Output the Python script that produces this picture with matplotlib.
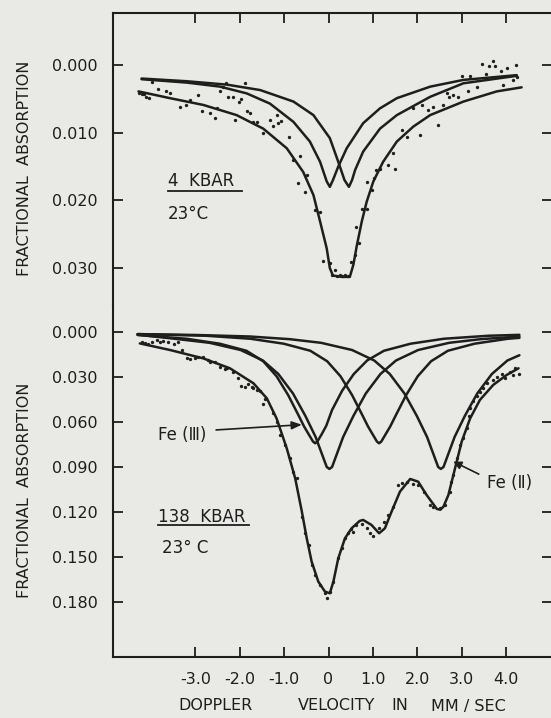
import matplotlib
matplotlib.use("Agg")
import matplotlib.pyplot as plt

W, H = 551, 718
INK = "#1e1e1e"
PAPER = "#e9e9e6"

# ---- 4 kbar panel ----
top_fit_x = [-4.28, -3.57, -2.82, -2.07, -1.47, -0.94, -0.57, -0.34, -0.19, -0.04, 0.03, 0.10,
             0.30, 0.48, 0.56, 0.64, 0.75, 0.86, 1.01, 1.23, 1.54, 1.91, 2.29, 3.04, 3.79, 4.35]
top_fit_y = [0.0039, 0.0049, 0.0059, 0.0074, 0.0094, 0.0123, 0.0158, 0.0192, 0.0231, 0.0271, 0.0300, 0.0311,
             0.0313, 0.0313, 0.0295, 0.0266, 0.0231, 0.0202, 0.0172, 0.0143, 0.0113, 0.0091, 0.0074, 0.0054, 0.0039, 0.0033]

top_a_x = [-4.21, -3.19, -2.44, -1.84, -1.32, -0.79, -0.42, -0.19, -0.04, 0.03, 0.10, 0.22, 0.41,
           0.78, 1.16, 1.54, 2.29, 3.04, 4.24]
top_a_y = [0.0021, 0.0026, 0.0032, 0.0042, 0.0057, 0.0084, 0.0113, 0.0143, 0.0172, 0.0180, 0.0170, 0.0150, 0.0123,
           0.0086, 0.0064, 0.0049, 0.0032, 0.0022, 0.0015]

top_b_x = [-4.21, -3.19, -2.29, -1.54, -0.79, -0.34, 0.03, 0.22, 0.36, 0.46, 0.53, 0.60, 0.78,
           1.16, 1.54, 2.29, 3.04, 4.24]
top_b_y = [0.0020, 0.0024, 0.0029, 0.0037, 0.0054, 0.0074, 0.0108, 0.0143, 0.0170, 0.0180, 0.0170, 0.0155, 0.0128,
           0.0094, 0.0074, 0.0047, 0.0027, 0.0016]

top_pts_x = [-4.26, -4.21, -4.16, -4.10, -4.04, -3.98, -3.83, -3.65, -3.57, -3.35, -3.20, -3.12, -2.93, -2.86,
             -2.67, -2.56, -2.52, -2.44, -2.37, -2.31, -2.26, -2.16, -2.11, -2.01, -1.96, -1.88, -1.84, -1.77,
             -1.69, -1.62, -1.47, -1.32, -1.24, -1.17, -1.13, -1.06, -0.90, -0.79, -0.64, -0.68, -0.49, -0.53,
             -0.30, -0.19, -0.12, 0.03, 0.08, 0.15, 0.20, 0.26, 0.31, 0.37, 0.43, 0.50, 0.60, 0.62, 0.69, 0.75,
             0.86, 0.87, 0.97, 1.03, 1.08, 1.16, 1.35, 1.46, 1.50, 1.65, 1.76, 1.90, 2.05, 2.10, 2.25, 2.36,
             2.47, 2.59, 2.66, 2.72, 2.81, 2.92, 3.00, 3.15, 3.19, 3.34, 3.45, 3.55, 3.62, 3.70, 3.75, 3.89,
             3.94, 4.03, 4.16, 4.22, 4.24]
top_pts_y = [0.0042, 0.0043, 0.0043, 0.0047, 0.0049, 0.0025, 0.0035, 0.0039, 0.0042, 0.0062, 0.0059, 0.0052,
             0.0044, 0.0068, 0.0071, 0.0079, 0.0064, 0.0039, 0.0032, 0.0026, 0.0048, 0.0048, 0.0081, 0.0054,
             0.0050, 0.0026, 0.0068, 0.0071, 0.0084, 0.0084, 0.0101, 0.0081, 0.0090, 0.0074, 0.0086, 0.0083,
             0.0106, 0.0140, 0.0134, 0.0175, 0.0162, 0.0187, 0.0214, 0.0217, 0.0290, 0.0293, 0.0310, 0.0303,
             0.0312, 0.0310, 0.0312, 0.0310, 0.0311, 0.0291, 0.0281, 0.0240, 0.0263, 0.0212, 0.0212, 0.0173,
             0.0185, 0.0167, 0.0155, 0.0153, 0.0148, 0.0130, 0.0153, 0.0096, 0.0106, 0.0063, 0.0103, 0.0059,
             0.0066, 0.0062, 0.0089, 0.0059, 0.0042, 0.0047, 0.0044, 0.0048, 0.0016, 0.0039, 0.0016, 0.0032,
             -0.0002, 0.0014, 0.0002, -0.0006, 0.0002, 0.0009, 0.0030, 0.0004, 0.0022, 0.0000, 0.0017]

# ---- 138 kbar panel ----
fe3a_x = [-4.3, -3.2, -2.45, -1.85, -1.47, -1.17, -0.91, -0.68, -0.55, -0.45, -0.35, -0.30, -0.25, -0.15,
          -0.05, 0.08, 0.31, 0.57, 0.87, 1.25, 1.85, 2.6, 3.6, 4.3]
fe3a_y = [0.0020, 0.0045, 0.0078, 0.0125, 0.0195, 0.0295, 0.0420, 0.0553, 0.0630, 0.0680, 0.0730, 0.0742,
          0.0730, 0.0680, 0.0625, 0.0520, 0.0390, 0.0280, 0.0190, 0.0125, 0.0078, 0.0045, 0.0025, 0.0019]

fe3b_x = [-4.3, -2.76, -1.76, -1.01, -0.41, -0.03, 0.27, 0.53, 0.76, 0.89, 0.99, 1.09, 1.14, 1.19, 1.29,
          1.39, 1.52, 1.75, 2.01, 2.31, 2.69, 3.29, 4.04, 4.3]
fe3b_y = [0.0014, 0.0025, 0.0045, 0.0078, 0.0125, 0.0195, 0.0295, 0.0420, 0.0553, 0.0630, 0.0680, 0.0730,
          0.0742, 0.0730, 0.0680, 0.0630, 0.0553, 0.0420, 0.0295, 0.0195, 0.0125, 0.0078, 0.0045, 0.0039]

fe2a_x = [-4.3, -3.38, -2.68, -1.98, -1.48, -1.13, -0.80, -0.52, -0.29, -0.14, -0.04, 0.02, 0.08, 0.18,
          0.33, 0.56, 0.84, 1.17, 1.52, 2.02, 2.72, 3.42, 4.3]
fe2a_y = [0.0018, 0.0048, 0.0072, 0.0120, 0.0190, 0.0280, 0.0410, 0.0560, 0.0700, 0.0820, 0.0900, 0.0913,
          0.0900, 0.0820, 0.0700, 0.0560, 0.0410, 0.0280, 0.0190, 0.0120, 0.0072, 0.0048, 0.0030]

fe2b_x = [-4.3, -2.97, -1.77, -0.87, -0.17, 0.53, 1.03, 1.38, 1.71, 1.99, 2.22, 2.37, 2.47, 2.53, 2.59,
          2.69, 2.84, 3.07, 3.35, 3.68, 4.03, 4.3]
fe2b_y = [0.0014, 0.0020, 0.0030, 0.0048, 0.0072, 0.0120, 0.0190, 0.0280, 0.0410, 0.0560, 0.0700, 0.0820,
          0.0900, 0.0913, 0.0900, 0.0820, 0.0700, 0.0560, 0.0410, 0.0280, 0.0190, 0.0155]

bot_fit_x = [-4.25, -3.57, -2.82, -2.22, -1.69, -1.39, -1.17, -0.94, -0.75, -0.60, -0.49, -0.38, -0.23,
             -0.08, 0.03, 0.11, 0.22, 0.37, 0.52, 0.70, 0.78, 0.97, 1.14, 1.27, 1.42, 1.61, 1.84, 2.02,
             2.21, 2.44, 2.52, 2.59, 2.70, 2.85, 3.00, 3.19, 3.41, 3.71, 4.01, 4.28]
bot_fit_y = [0.0076, 0.0120, 0.0176, 0.0242, 0.0342, 0.0442, 0.0576, 0.0776, 0.0976, 0.1198, 0.1376, 0.1531,
             0.1664, 0.1731, 0.1742, 0.1664, 0.1509, 0.1376, 0.1309, 0.1260, 0.1253, 0.1287, 0.1342, 0.1309,
             0.1198, 0.1064, 0.0980, 0.0998, 0.1087, 0.1180, 0.1185, 0.1164, 0.1087, 0.0909, 0.0731, 0.0576,
             0.0453, 0.0353, 0.0287, 0.0242]

bot_pts_x = [-4.21, -4.13, -4.06, -3.98, -3.87, -3.80, -3.72, -3.61, -3.49, -3.38, -3.31, -3.19, -3.12, -3.01,
             -2.93, -2.82, -2.71, -2.67, -2.56, -2.44, -2.33, -2.29, -2.14, -2.03, -1.96, -1.88, -1.81, -1.73,
             -1.69, -1.62, -1.54, -1.47, -1.42, -1.24, -1.17, -1.09, -0.98, -0.87, -0.79, -0.72, -0.60, -0.53,
             -0.45, -0.38, -0.30, -0.19, -0.08, -0.04, 0.03, 0.11, 0.22, 0.30, 0.37, 0.45, 0.50, 0.56, 0.62,
             0.75, 0.86, 0.93, 1.01, 1.14, 1.24, 1.35, 1.46, 1.57, 1.65, 1.76, 1.91, 2.02, 2.14, 2.29, 2.36,
             2.51, 2.62, 2.74, 2.77, 2.81, 2.89, 2.96, 3.04, 3.11, 3.17, 3.19, 3.25, 3.34, 3.41, 3.49, 3.56,
             3.70, 3.79, 3.90, 3.98, 4.09, 4.15, 4.20, 4.28]
bot_pts_y = [0.0064, 0.0076, 0.0082, 0.0069, 0.0053, 0.0064, 0.0060, 0.0069, 0.0082, 0.0064, 0.0120, 0.0171,
             0.0182, 0.0176, 0.0164, 0.0169, 0.0187, 0.0202, 0.0198, 0.0231, 0.0249, 0.0238, 0.0264, 0.0309,
             0.0358, 0.0367, 0.0349, 0.0364, 0.0376, 0.0387, 0.0393, 0.0480, 0.0447, 0.0542, 0.0598, 0.0687,
             0.0753, 0.0842, 0.0931, 0.0976, 0.1231, 0.1342, 0.1420, 0.1553, 0.1620, 0.1687, 0.1742, 0.1776,
             0.1731, 0.1664, 0.1509, 0.1442, 0.1376, 0.1342, 0.1313, 0.1331, 0.1287, 0.1282, 0.1309, 0.1342,
             0.1358, 0.1309, 0.1264, 0.1220, 0.1164, 0.1020, 0.1009, 0.0998, 0.1016, 0.1020, 0.1064, 0.1153,
             0.1164, 0.1171, 0.1153, 0.1064, 0.0998, 0.0953, 0.0842, 0.0753, 0.0709, 0.0642, 0.0558, 0.0509,
             0.0460, 0.0424, 0.0398, 0.0376, 0.0342, 0.0320, 0.0298, 0.0282, 0.0304, 0.0264, 0.0287, 0.0242,
             0.0282]

x_ticks = [-3.0, -2.0, -1.0, 0.0, 1.0, 2.0, 3.0, 4.0]
x_tick_labels = ["-3.0", "-2.0", "-1.0", "0", "1.0", "2.0", "3.0", "4.0"]
top_y_ticks = [0.000, 0.010, 0.020, 0.030]
top_y_labels = ["0.000", "0.010", "0.020", "0.030"]
bot_y_ticks = [0.000, 0.030, 0.060, 0.090, 0.120, 0.150, 0.180]
bot_y_labels = ["0.000", "0.030", "0.060", "0.090", "0.120", "0.150", "0.180"]
x_title_words = ["DOPPLER", "VELOCITY", "IN", "MM / SEC"]
x_title_center_px = [216, 337, 400, 468]

plt.rcParams["font.family"] = ["DejaVu Sans"]
plt.rcParams["text.color"] = INK

fig = plt.figure(figsize=(W / 100, H / 100), dpi=100, facecolor=PAPER)


def px_box(left, top, right, bottom):
    return [left / W, 1 - bottom / H, (right - left) / W, (bottom - top) / H]


ax1 = fig.add_axes(px_box(113, 13, 552, 305))
ax2 = fig.add_axes(px_box(113, 305, 552, 657))

for ax in (ax1, ax2):
    ax.set_facecolor(PAPER)
    ax.set_xlim(-4.854, 5.034)
    ax.set_xticks(x_ticks)
    for s in ax.spines.values():
        s.set_color(INK)
        s.set_linewidth(1.5)
    ax.tick_params(axis="both", direction="in", length=7.5, width=1.3, colors=INK,
                   labelsize=11.5, labelcolor=INK)
    ax.tick_params(axis="y", left=True, right=True, pad=11)

line_kw = dict(color=INK, lw=1.8, solid_capstyle="round", solid_joinstyle="round")
dot_kw = dict(ls="none", marker="o", ms=2.4, color=INK, mew=0)

# top panel
ax1.plot(top_a_x, top_a_y, **line_kw)
ax1.plot(top_b_x, top_b_y, **line_kw)
ax1.plot(top_fit_x, top_fit_y, **line_kw)
ax1.plot(top_pts_x, top_pts_y, **dot_kw)
ax1.set_ylim(0.03545, -0.00768)
ax1.set_yticks(top_y_ticks, top_y_labels)
ax1.spines["bottom"].set_visible(False)
ax1.tick_params(axis="x", top=True, bottom=False, labeltop=False, labelbottom=False)

ax1.text(-3.61, 0.0172, "4  KBAR", fontsize=12, ha="left", va="center")
ax1.plot([-3.61, -1.94], [0.0186, 0.0186], color=INK, lw=1.3)
ax1.text(-3.61, 0.0220, "23°C", fontsize=12, ha="left", va="center")

# bottom panel
for cx, cy in ((fe3a_x, fe3a_y), (fe3b_x, fe3b_y), (fe2a_x, fe2a_y), (fe2b_x, fe2b_y)):
    ax2.plot(cx, cy, **line_kw)
ax2.plot(bot_fit_x, bot_fit_y, **line_kw)
ax2.plot(bot_pts_x, bot_pts_y, **dot_kw)
ax2.set_ylim(0.2167, -0.018)
ax2.set_yticks(bot_y_ticks, bot_y_labels)
ax2.set_xticks(x_ticks, x_tick_labels)
ax2.spines["top"].set_visible(False)
ax2.tick_params(axis="x", top=False, bottom=True, pad=11)

ax2.text(-3.83, 0.1231, "138  KBAR", fontsize=12, ha="left", va="center")
ax2.plot([-3.83, -1.78], [0.1290, 0.1290], color=INK, lw=1.3)
ax2.text(-3.76, 0.1442, "23° C", fontsize=12, ha="left", va="center")

ax2.annotate("Fe (Ⅲ)", xy=(-0.60, 0.0618), xytext=(-3.84, 0.0687), fontsize=12,
             ha="left", va="center",
             arrowprops=dict(arrowstyle="-|>,head_length=0.5,head_width=0.2", color=INK, lw=1.2,
                             relpos=(1.0, 0.75), shrinkA=5, shrinkB=0))
ax2.annotate("Fe (Ⅱ)", xy=(2.81, 0.0864), xytext=(3.56, 0.1009), fontsize=12,
             ha="left", va="center",
             arrowprops=dict(arrowstyle="-|>,head_length=0.4,head_width=0.2", color=INK, lw=1.2,
                             relpos=(0.0, 0.8), shrinkA=4, shrinkB=0))

# axis titles
fig.text(25 / W, 1 - 168 / H, "FRACTIONAL  ABSORPTION", rotation=90, fontsize=11.5,
         ha="center", va="center")
fig.text(25 / W, 1 - 490 / H, "FRACTIONAL  ABSORPTION", rotation=90, fontsize=11.5,
         ha="center", va="center")
for word, cx in zip(x_title_words, x_title_center_px):
    fig.text(cx / W, 1 - 706 / H, word, fontsize=11.5, ha="center", va="center")

fig.savefig("out.png", dpi=100, facecolor=PAPER)
